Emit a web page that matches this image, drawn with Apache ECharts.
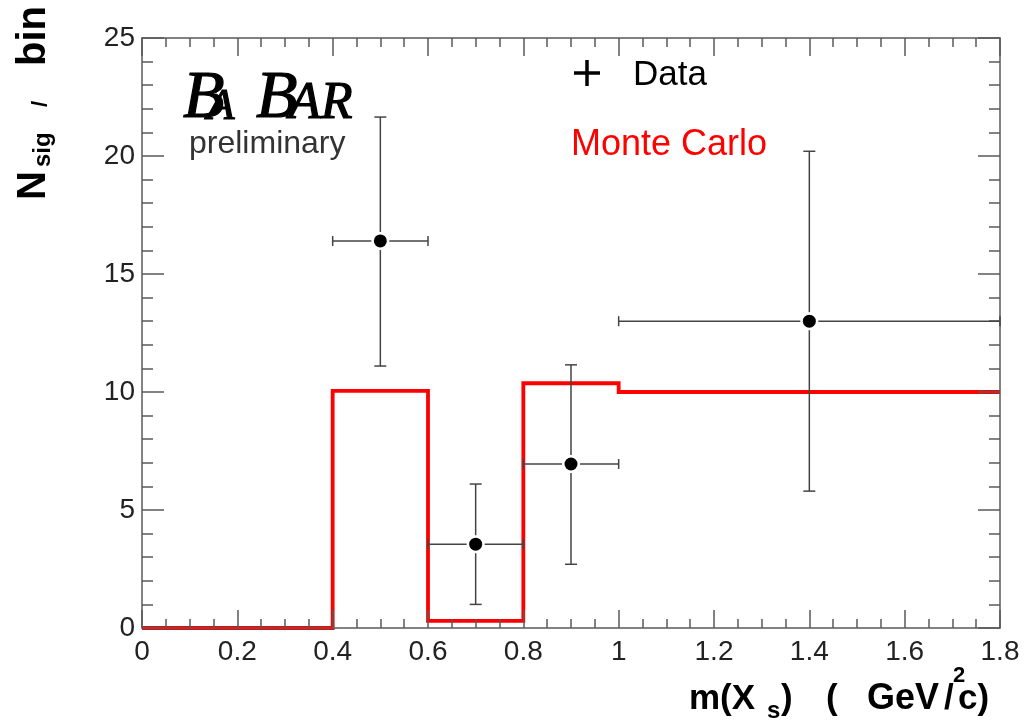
<!DOCTYPE html>
<html>
<head>
<meta charset="utf-8">
<script src="https://cdn.jsdelivr.net/npm/echarts@6/dist/echarts.min.js"></script>
<style>
html,body{margin:0;padding:0;background:#fff;}
#chart{width:1031px;height:721px;}
</style>
</head>
<body>
<div id="chart"></div>
<script>
// ---- data ----
const xTicks = [0, 0.2, 0.4, 0.6, 0.8, 1, 1.2, 1.4, 1.6, 1.8];
const yTicks = [0, 5, 10, 15, 20, 25];
const dataX = [0.5, 0.7, 0.9, 1.4];
const dataY = [16.4, 3.55, 6.95, 13.0];
const dataXLow = [0.4, 0.6, 0.8, 1.0];
const dataXHigh = [0.6, 0.8, 1.0, 1.8];
const dataYLow = [11.1, 1.0, 2.7, 5.8];
const dataYHigh = [21.65, 6.1, 11.15, 20.2];
const mcEdges = [0, 0.4, 0.6, 0.8, 1.0, 1.8];
const mcValues = [0, 10.05, 0.3, 10.37, 10.0];

// ---- build ----
const mcPoints = [];
mcValues.forEach((v, i) => { mcPoints.push([mcEdges[i], v]); mcPoints.push([mcEdges[i + 1], v]); });
const errData = dataX.map((x, i) => [x, dataY[i], dataXLow[i], dataXHigh[i], dataYLow[i], dataYHigh[i]]);

const axisColor = '#5a5a5a';
const tickFont = { fontFamily: 'Liberation Sans', fontSize: 28, color: '#222' };

function xAxisCfg(pos, showLabel) {
  return {
    type: 'value', position: pos, min: xTicks[0], max: xTicks[xTicks.length - 1], interval: 0.2,
    z: 5,
    axisLine: { show: true, onZero: false, lineStyle: { color: axisColor, width: 1.5 } },
    axisTick: { show: true, inside: true, length: 18, lineStyle: { color: axisColor, width: 1.5 } },
    minorTick: { show: true, splitNumber: 4, length: 9, lineStyle: { color: axisColor, width: 1.5 } },
    splitLine: { show: false },
    axisLabel: Object.assign({ show: showLabel, margin: 10, formatter: v => String(+v.toFixed(1)) }, tickFont)
  };
}
function yAxisCfg(pos, showLabel) {
  return {
    type: 'value', position: pos, min: yTicks[0], max: yTicks[yTicks.length - 1], interval: 5,
    z: 5,
    axisLine: { show: true, onZero: false, lineStyle: { color: axisColor, width: 1.5 } },
    axisTick: { show: true, inside: true, length: 22, lineStyle: { color: axisColor, width: 1.5 } },
    minorTick: { show: true, splitNumber: 5, length: 11, lineStyle: { color: axisColor, width: 1.5 } },
    splitLine: { show: false },
    axisLabel: Object.assign({ show: showLabel, margin: 7 }, tickFont)
  };
}

function txt(text, x, y, font, color, extra, styleExtra) {
  return Object.assign({
    type: 'text', x: x, y: y, z: 10,
    style: Object.assign({ text: text, font: font, fill: color || '#000',
      textAlign: 'left', align: 'left', textVerticalAlign: 'middle', verticalAlign: 'middle' }, styleExtra || {})
  }, extra || {});
}
const R90 = Math.PI / 2;
const logoStroke = { stroke: '#000', lineWidth: 1.2 };
const graphics = [
  // y-axis title (rotated)
  txt('N', 34, 200, 'bold 40px "Liberation Sans"', '#000', { rotation: R90 }),
  txt('sig', 43, 167, 'bold 24px "Liberation Sans"', '#000', { rotation: R90 }),
  txt('/', 41, 107, 'bold 22px "Liberation Sans"', '#000', { rotation: R90 }),
  txt('bin', 34, 66, 'bold 40px "Liberation Sans"', '#000', { rotation: R90 }),
  // x-axis title
  txt('m(X', 689, 699, 'bold 35px "Liberation Sans"'),
  txt('s', 767, 711, 'bold 24px "Liberation Sans"'),
  txt(')', 781, 699, 'bold 35px "Liberation Sans"'),
  txt('(', 826, 699, 'bold 35px "Liberation Sans"'),
  txt('GeV', 867, 699, 'bold 36px "Liberation Sans"'),
  txt('/', 944, 699, 'bold 35px "Liberation Sans"'),
  txt('2', 953, 676, 'bold 22px "Liberation Sans"'),
  txt('c)', 958, 699, 'bold 35px "Liberation Sans"'),
  // BaBar logo
  txt('B', 183, 99, 'italic 68px "Liberation Serif"', '#000', null, logoStroke),
  txt('A', 207, 107, 'italic 45px "Liberation Serif"', '#000', null, logoStroke),
  txt('B', 256, 99, 'italic 68px "Liberation Serif"', '#000', null, logoStroke),
  txt('AR', 289, 104.5, 'italic 52px "Liberation Serif"', '#000', null, logoStroke),
  txt('preliminary', 189, 144, '32px "Liberation Sans"', '#333'),
  // legend
  { type: 'line', z: 10, shape: { x1: 574, y1: 73, x2: 600, y2: 73 }, style: { stroke: '#000', lineWidth: 3.5 } },
  { type: 'line', z: 10, shape: { x1: 587, y1: 60, x2: 587, y2: 86 }, style: { stroke: '#000', lineWidth: 3.5 } },
  txt('Data', 633, 75.5, '35px "Liberation Sans"', '#000'),
  txt('Monte Carlo', 571, 145.5, '36px "Liberation Sans"', '#ff0000')
];

const chart = echarts.init(document.getElementById('chart'), null, { renderer: 'canvas' });
chart.setOption({
  backgroundColor: '#fff',
  animation: false,
  grid: { left: 142, right: 31, top: 38, bottom: 93, containLabel: false },
  xAxis: [xAxisCfg('bottom', true), xAxisCfg('top', false)],
  yAxis: [yAxisCfg('left', true), yAxisCfg('right', false)],
  graphic: graphics,
  series: [
    {
      name: 'Monte Carlo', type: 'line', xAxisIndex: 0, yAxisIndex: 0,
      data: mcPoints, symbol: 'none', z: 2,
      lineStyle: { color: '#ff0000', width: 3.8, join: 'miter' }
    },
    {
      name: 'Data', type: 'custom', xAxisIndex: 0, yAxisIndex: 0, z: 6,
      data: errData,
      renderItem: function (params, api) {
        const c = api.coord([api.value(0), api.value(1)]);
        const xl = api.coord([api.value(2), api.value(1)])[0];
        const xh = api.coord([api.value(3), api.value(1)])[0];
        const yl = api.coord([api.value(0), api.value(4)])[1];
        const yh = api.coord([api.value(0), api.value(5)])[1];
        const r = 6.5, g = r + 2.5, cw = 6, ch = 5;
        const st = { stroke: '#444', lineWidth: 1.5 };
        const L = (x1, y1, x2, y2) => ({ type: 'line', shape: { x1, y1, x2, y2 }, style: st });
        return {
          type: 'group',
          children: [
            L(xl, c[1], c[0] - g, c[1]),
            L(c[0] + g, c[1], xh, c[1]),
            L(c[0], c[1] - g, c[0], yh),
            L(c[0], c[1] + g, c[0], yl),
            L(xl, c[1] - ch, xl, c[1] + ch),
            L(xh, c[1] - ch, xh, c[1] + ch),
            L(c[0] - cw, yh, c[0] + cw, yh),
            L(c[0] - cw, yl, c[0] + cw, yl),
            { type: 'circle', shape: { cx: c[0], cy: c[1], r: r }, style: { fill: '#000' } }
          ]
        };
      }
    }
  ]
});
</script>
</body>
</html>
